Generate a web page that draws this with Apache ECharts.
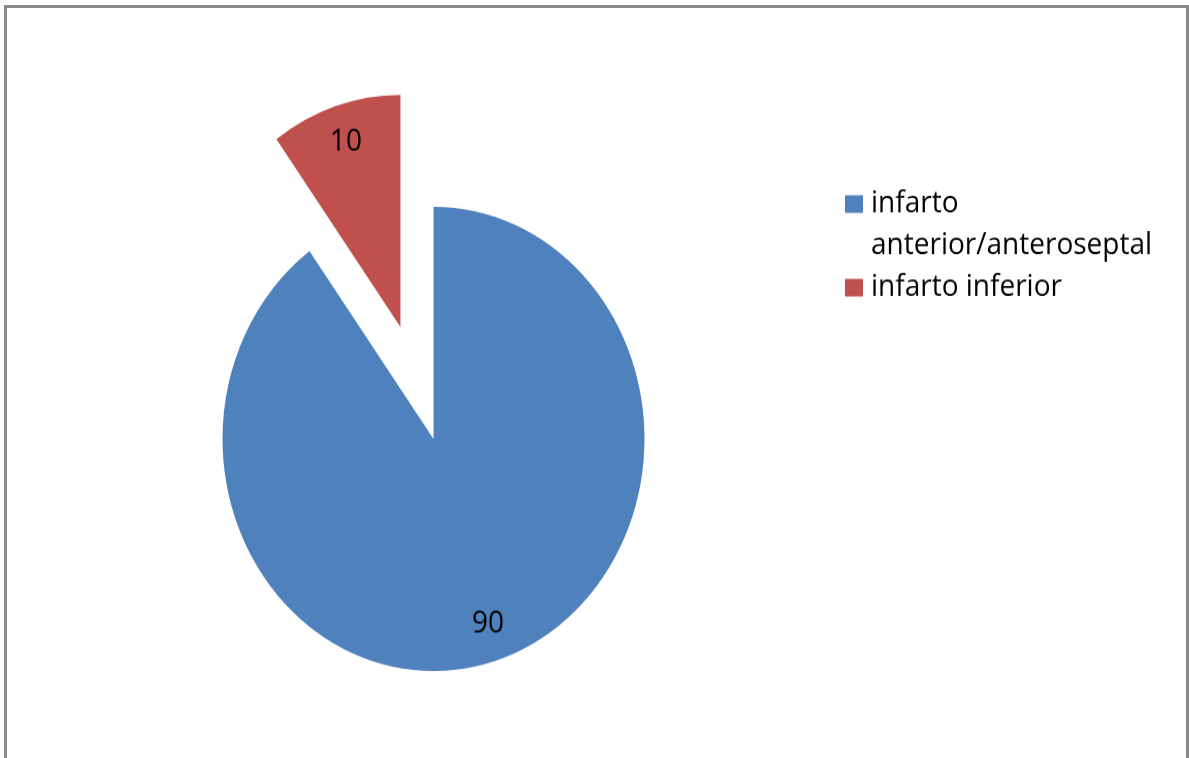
<!DOCTYPE html>
<html>
<head>
<meta charset="utf-8">
<title>infarto</title>
<script src="https://cdn.jsdelivr.net/npm/echarts@6/dist/echarts.min.js"></script>
<style>
  html, body { margin: 0; padding: 0; background: #fff; overflow: hidden; width: 1189px; height: 758px; }
  #frame {
    position: absolute; left: 4px; top: 5px; width: 1185px; height: 800px;
    box-sizing: border-box; border: 3px solid #898989; border-bottom: none;
  }
  /* chart is laid out in a 689px-tall box and stretched vertically to 758px */
  #chart {
    position: absolute; left: 0; top: 0; width: 1189px; height: 689px;
    transform: scaleY(1.1); transform-origin: 0 0;
  }
</style>
</head>
<body>
<div id="frame"></div>
<div id="chart"></div>
<script>
// categories and their values
const categories = ['infarto anterior/anteroseptal', 'infarto inferior'];
const values = [90, 10];
const colors = ['#4F81BD', '#C0504D'];
// slice pulled out of the pie
const explodedIndex = 1;

const FONT = 'Open Sans';
const FONT_SIZE = 28;
const LINE = 38;

const center = [433.5, 399];
const radius = 211;
const explode = 107;

const pieData = categories.map((name, i) => ({
  name: name,
  value: values[i],
  selected: i === explodedIndex,
  itemStyle: { color: colors[i] }
}));

const labelData = categories.map((name, i) => ({
  name: name,
  value: values[i],
  selected: i === explodedIndex
}));

// long legend names wrap after the first word; a blank leading line keeps
// the first text line level with the colour key
function legendText(name) {
  return name.length > 20 ? '\n' + name.replace(' ', '\n') : name;
}

const chart = echarts.init(document.getElementById('chart'), null, { renderer: 'canvas' });
chart.setOption({
  animation: false,
  legend: {
    orient: 'vertical',
    left: 845,
    top: 128.5,
    padding: 0,
    itemGap: 0,
    itemWidth: 18,
    itemHeight: 16,
    icon: 'rect',
    selectedMode: false,
    formatter: legendText,
    textStyle: {
      fontFamily: FONT, fontSize: FONT_SIZE, lineHeight: LINE, color: '#000',
      padding: [0, 0, 0, 3]
    },
    data: categories
  },
  series: [
    {
      type: 'pie',
      center: center,
      radius: radius,
      startAngle: 90,
      clockwise: true,
      selectedMode: 'single',
      selectedOffset: explode,
      label: { show: false },
      labelLine: { show: false },
      emphasis: { disabled: true },
      data: pieData
    },
    {
      // value labels sit at about 82% of the radius
      type: 'pie',
      silent: true,
      center: center,
      radius: radius * 1.645,
      startAngle: 90,
      clockwise: true,
      selectedMode: 'single',
      selectedOffset: explode,
      itemStyle: { color: 'rgba(0,0,0,0)' },
      label: {
        show: true, position: 'inside', formatter: '{c}',
        fontFamily: FONT, fontSize: FONT_SIZE, color: '#000'
      },
      labelLine: { show: false },
      emphasis: { disabled: true },
      data: labelData
    }
  ]
});
</script>
</body>
</html>
